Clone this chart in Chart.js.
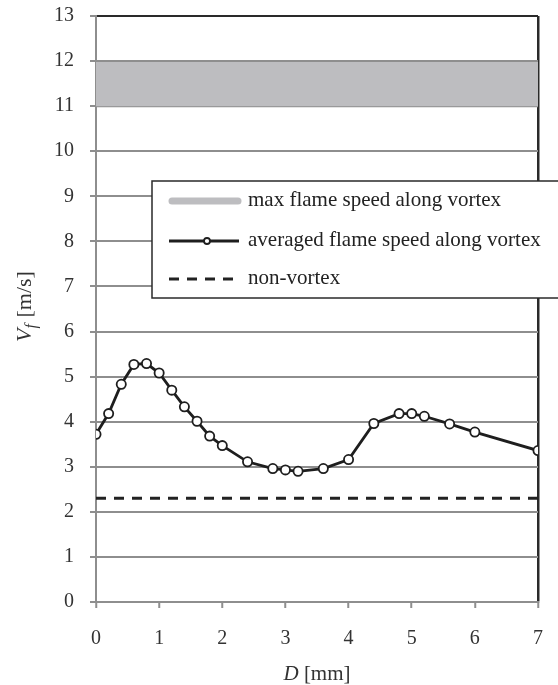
<!DOCTYPE html>
<html>
<head>
<meta charset="utf-8">
<script src="https://cdn.jsdelivr.net/npm/chart.js@4.4.1/dist/chart.umd.min.js"></script>
<style>
  html, body { margin: 0; padding: 0; background: #fff; overflow: hidden; }
  #wrap { width: 558px; height: 685px; position: relative; }
  canvas { display: block; }
</style>
</head>
<body>
<div id="wrap"><canvas id="speedChart"></canvas></div>
<script>
Chart.defaults.font.family = "'Liberation Serif', 'Times New Roman', serif";
Chart.defaults.font.size = 20;
Chart.defaults.color = "#333";
Chart.defaults.animation = false;
Chart.defaults.maintainAspectRatio = false;
Chart.defaults.plugins.legend.display = false;
Chart.defaults.plugins.tooltip.enabled = false;

// distance D [mm] and averaged flame speed [m/s]
const distMm = [0, 0.2, 0.4, 0.6, 0.8, 1.0, 1.2, 1.4, 1.6, 1.8, 2.0, 2.4, 2.8, 3.0, 3.2, 3.6, 4.0, 4.4, 4.8, 5.0, 5.2, 5.6, 6.0, 7.0];
const avgSpeed = [3.72, 4.18, 4.83, 5.27, 5.29, 5.08, 4.70, 4.33, 4.01, 3.68, 3.47, 3.11, 2.96, 2.93, 2.90, 2.96, 3.16, 3.96, 4.18, 4.18, 4.12, 3.95, 3.77, 3.36];

// max flame speed band (low / high) and non-vortex reference
const bandX = [0, 7];
const maxSpeedLow = [11, 11];
const maxSpeedHigh = [12, 12];
const nonVortexX = [0, 7];
const nonVortex = [2.3, 2.3];

const xTicks = [0, 1, 2, 3, 4, 5, 6, 7];
const yTicks = [0, 1, 2, 3, 4, 5, 6, 7, 8, 9, 10, 11, 12, 13];

const legendItems = [
  "max flame speed along vortex",
  "averaged flame speed along vortex",
  "non-vortex",
];

const GRID = "#8e8e8e";
const DARK = "#2a2a2a";
const BAND = "#bdbdc0";

const pts = (xs, ys) => xs.map((x, i) => ({ x, y: ys[i] }));

// axis titles with italic symbol + subscript
const axisTitles = {
  id: "axisTitles",
  afterDraw(chart) {
    const { ctx, chartArea: a } = chart;
    ctx.save();
    ctx.fillStyle = "#333";
    ctx.textBaseline = "alphabetic";

    // x title: D [mm]
    let reg = "21px 'Liberation Serif', serif";
    let ital = "italic 21px 'Liberation Serif', serif";
    ctx.font = ital;
    const wD = ctx.measureText("D").width;
    ctx.font = reg;
    const wRest = ctx.measureText(" [mm]").width;
    let x0 = (a.left + a.right) / 2 - (wD + wRest) / 2;
    ctx.font = ital;
    ctx.fillText("D", x0, 680);
    ctx.font = reg;
    ctx.fillText(" [mm]", x0 + wD, 680);

    // y title: V_f [m/s], rotated
    reg = "22px 'Liberation Serif', serif";
    ital = "italic 22px 'Liberation Serif', serif";
    const sub = "italic 16px 'Liberation Serif', serif";
    ctx.translate(31, 307);
    ctx.rotate(-Math.PI / 2);
    ctx.font = ital;
    const wV = ctx.measureText("V").width;
    ctx.font = sub;
    const wf = ctx.measureText("f").width;
    ctx.font = reg;
    const wU = ctx.measureText(" [m/s]").width;
    x0 = -(wV + wf + wU) / 2;
    ctx.font = ital;
    ctx.fillText("V", x0, 0);
    ctx.font = sub;
    ctx.fillText("f", x0 + wV, 5);
    ctx.font = reg;
    ctx.fillText(" [m/s]", x0 + wV + wf + 1, 0);
    ctx.restore();
  },
};

// boxed legend inside the plot
const boxLegend = {
  id: "boxLegend",
  afterDraw(chart) {
    const { ctx } = chart;
    const ds = chart.data.datasets;
    const bx = 152, by = 181, bw = 420, bh = 117;
    ctx.save();
    ctx.fillStyle = "#fff";
    ctx.fillRect(bx, by, bw, bh);
    ctx.strokeStyle = DARK;
    ctx.lineWidth = 1.5;
    ctx.strokeRect(bx, by, bw, bh);

    const rows = [201, 241, 279];
    const lx0 = 169, lx1 = 241, tx = 248;

    // band sample
    ctx.lineCap = "round";
    ctx.strokeStyle = BAND;
    ctx.lineWidth = 7;
    ctx.beginPath(); ctx.moveTo(lx0 + 3, rows[0]); ctx.lineTo(lx1 - 3, rows[0]); ctx.stroke();

    // averaged line sample
    const avg = ds[2];
    ctx.lineCap = "butt";
    ctx.strokeStyle = avg.borderColor;
    ctx.lineWidth = avg.borderWidth;
    ctx.beginPath(); ctx.moveTo(lx0, rows[1]); ctx.lineTo(lx1 - 2, rows[1]); ctx.stroke();
    ctx.fillStyle = "#fff";
    ctx.lineWidth = 1.8;
    ctx.beginPath(); ctx.arc(207, rows[1], 3, 0, Math.PI * 2); ctx.fill(); ctx.stroke();

    // dashed sample
    const nv = ds[3];
    ctx.strokeStyle = nv.borderColor;
    ctx.lineWidth = nv.borderWidth;
    ctx.setLineDash(nv.borderDash);
    ctx.beginPath(); ctx.moveTo(lx0, rows[2]); ctx.lineTo(lx1 - 8, rows[2]); ctx.stroke();
    ctx.setLineDash([]);

    ctx.fillStyle = "#222";
    ctx.font = "21px 'Liberation Serif', serif";
    ctx.textBaseline = "middle";
    legendItems.forEach((t, i) => ctx.fillText(t, tx, rows[i] - 1));
    ctx.restore();
  },
};

new Chart(document.getElementById("speedChart"), {
  type: "line",
  data: {
    datasets: [
      {
        data: pts(bandX, maxSpeedHigh),
        borderColor: GRID, borderWidth: 2, pointRadius: 0,
        backgroundColor: BAND, fill: "+1",
      },
      {
        data: pts(bandX, maxSpeedLow),
        borderColor: GRID, borderWidth: 2, pointRadius: 0, fill: false,
      },
      {
        data: pts(distMm, avgSpeed),
        borderColor: "#1e1e1e", borderWidth: 2.8, tension: 0,
        pointRadius: 4.6, pointBorderWidth: 1.8,
        pointBackgroundColor: "#fff", pointBorderColor: "#1e1e1e", fill: false,
      },
      {
        data: pts(nonVortexX, nonVortex),
        borderColor: "#222", borderWidth: 3, borderDash: [10, 8],
        pointRadius: 0, fill: false,
      },
    ],
  },
  options: {
    layout: { padding: 0 },
    scales: {
      x: {
        type: "linear", min: 0, max: 7,
        afterBuildTicks: (s) => { s.ticks = xTicks.map((v) => ({ value: v })); },
        afterFit: (s) => { s.height = 83; s.paddingLeft = 0; s.paddingRight = 20; },
        border: { color: GRID, width: 2 },
        grid: {
          color: (c) => (c.tick && c.tick.value === 7 ? DARK : "rgba(0,0,0,0)"),
          lineWidth: 2.5,
          tickColor: GRID, tickWidth: 2, tickLength: 6,
        },
        ticks: { padding: 19, color: "#333" },
      },
      y: {
        type: "linear", min: 0, max: 13,
        afterBuildTicks: (s) => { s.ticks = yTicks.map((v) => ({ value: v })); },
        afterFit: (s) => { s.width = 96; s.paddingTop = 16; s.paddingBottom = 0; },
        border: { color: GRID, width: 2 },
        grid: {
          color: (c) => (c.tick && c.tick.value === 13 ? DARK : GRID),
          lineWidth: 2,
          tickColor: GRID, tickWidth: 2, tickLength: 6,
        },
        ticks: { padding: 16, color: "#333" },
      },
    },
  },
  plugins: [axisTitles, boxLegend],
});
</script>
</body>
</html>
